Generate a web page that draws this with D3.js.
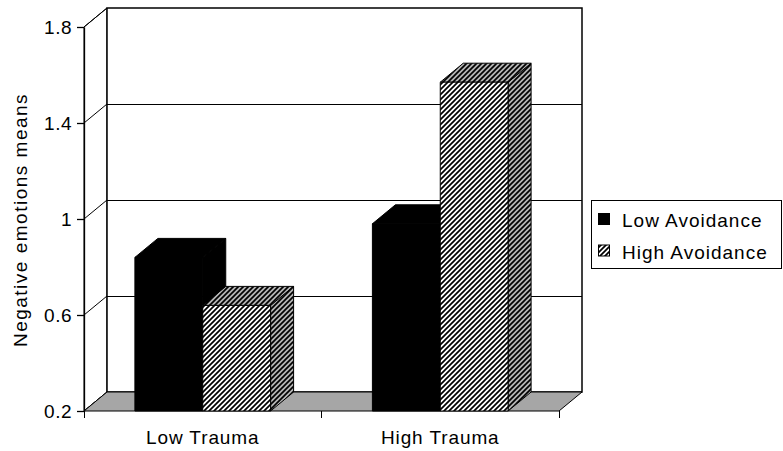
<!DOCTYPE html>
<html>
<head>
<meta charset="utf-8">
<script src="https://cdn.jsdelivr.net/npm/d3@7"></script>
<style>
  body { margin: 0; background: #fff; }
  text { font-family: Arial, "Liberation Sans", sans-serif; fill: #000; }
</style>
</head>
<body>
<div id="viz"></div>
<script>
// chart data
const categories = ["Low Trauma", "High Trauma"];
const series = ["Low Avoidance", "High Avoidance"];
const lowAvoidance = [0.84, 0.98];
const highAvoidance = [0.64, 1.57];
const yTicks = [0.2, 0.6, 1, 1.4, 1.8];

const W = 783, H = 451;
const DX = 23, DY = 19;   // 3d depth offset

const svg = d3.select("#viz").append("svg")
    .attr("width", W).attr("height", H);

const defs = svg.append("defs");
function hatch(id, bg) {
    const p = defs.append("pattern")
        .attr("id", id)
        .attr("patternUnits", "userSpaceOnUse")
        .attr("width", 5).attr("height", 5);
    p.append("rect").attr("width", 5).attr("height", 5).attr("fill", bg);
    p.append("path")
        .attr("d", "M0,5L5,0M-1,1L1,-1M4,6L6,4")
        .attr("stroke", "#000").attr("stroke-width", 1.7);
}
hatch("hatchFront", "#fff");
hatch("hatchSide", "#b4b4b4");

const x0 = d3.scaleBand().domain(categories).range([84, 559]);
const y = d3.scaleLinear().domain([0.2, 1.8]).range([411, 27]);
const bw = x0.bandwidth() / 3.5;
const x1 = d3.scaleBand().domain(series)
    .range([x0.bandwidth() / 2 - bw, x0.bandwidth() / 2 + bw]);

const xL = x0.range()[0], xR = x0.range()[1];
const yTop = y(1.8), yBot = y(0.2);

// side wall + back wall
svg.append("polygon")
    .attr("points", [[xL, yTop], [xL + DX, yTop - DY], [xL + DX, yBot - DY], [xL, yBot]].join(" "))
    .attr("fill", "#fff").attr("stroke", "#000");
svg.append("rect")
    .attr("x", xL + DX).attr("y", yTop - DY)
    .attr("width", xR - xL).attr("height", yBot - yTop)
    .attr("fill", "#fff").attr("stroke", "#000").attr("stroke-width", 1.5);

// gridlines on back wall and diagonals on side wall
const grid = yTicks.filter(d => d > 0.2 && d < 1.8);
svg.selectAll(".grid").data(grid).enter().append("line")
    .attr("x1", xL + DX).attr("x2", xR + DX)
    .attr("y1", d => y(d) - DY).attr("y2", d => y(d) - DY)
    .attr("stroke", "#000").attr("shape-rendering", "crispEdges");
svg.selectAll(".diag").data(yTicks).enter().append("line")
    .attr("x1", xL).attr("x2", xL + DX)
    .attr("y1", d => y(d)).attr("y2", d => y(d) - DY)
    .attr("stroke", "#000");

// floor
svg.append("polygon")
    .attr("points", [[xL, yBot], [xL + DX, yBot - DY], [xR + DX, yBot - DY], [xR, yBot]].join(" "))
    .attr("fill", "#a6a6a6").attr("stroke", "#000");

// bars
const bars = [];
categories.forEach((c, i) => {
    bars.push({ cat: c, s: series[0], v: lowAvoidance[i] });
    bars.push({ cat: c, s: series[1], v: highAvoidance[i] });
});

bars.forEach(d => {
    const xa = x0(d.cat) + x1(d.s), xb = xa + x1.bandwidth();
    const yt = y(d.v);
    const solid = d.s === series[0];
    const front = solid ? "#000" : "url(#hatchFront)";
    const side = solid ? "#000" : "url(#hatchSide)";
    const g = svg.append("g").attr("stroke", "#000").attr("stroke-linejoin", "round");
    g.append("polygon")
        .attr("points", [[xb, yt], [xb + DX, yt - DY], [xb + DX, yBot - DY], [xb, yBot]].join(" "))
        .attr("fill", side);
    g.append("polygon")
        .attr("points", [[xa, yt], [xa + DX, yt - DY], [xb + DX, yt - DY], [xb, yt]].join(" "))
        .attr("fill", side);
    g.append("rect")
        .attr("x", xa).attr("y", yt)
        .attr("width", xb - xa).attr("height", yBot - yt)
        .attr("fill", front);
});

// y axis
const yAxis = svg.append("g")
    .attr("transform", `translate(${xL},0)`)
    .call(d3.axisLeft(y).tickValues(yTicks).tickSize(7).tickSizeOuter(0)
        .tickPadding(5).tickFormat(d => String(d)));
yAxis.selectAll("path, line").attr("stroke", "#000").attr("stroke-width", 1.3);
yAxis.selectAll("text").style("font-size", "19px")
    .style("letter-spacing", "0.5px")
    .style("font-family", "Arial, 'Liberation Sans', sans-serif");

// x axis: ticks on category boundaries, labels on centres
const xTickPos = categories.map(c => x0(c)).concat([xR]);
svg.selectAll(".xtick").data(xTickPos).enter().append("line")
    .attr("x1", d => d).attr("x2", d => d)
    .attr("y1", yBot).attr("y2", yBot + 7)
    .attr("stroke", "#000").attr("shape-rendering", "crispEdges");
svg.selectAll(".xlab").data(categories).enter().append("text")
    .attr("x", d => x0(d) + x0.bandwidth() / 2)
    .attr("y", 444)
    .attr("text-anchor", "middle")
    .style("font-size", "19px")
    .style("letter-spacing", "0.9px")
    .text(d => d);

// y title
svg.append("text")
    .attr("transform", "translate(27,220) rotate(-90)")
    .attr("text-anchor", "middle")
    .style("font-size", "19px")
    .style("letter-spacing", "1.5px")
    .text("Negative emotions means");

// legend
const lg = svg.append("g").attr("transform", "translate(591,200)");
lg.append("rect").attr("width", 190).attr("height", 68)
    .attr("fill", "#fff").attr("stroke", "#000").attr("shape-rendering", "crispEdges");
series.forEach((s, i) => {
    lg.append("rect")
        .attr("x", 7.5).attr("y", 13.5 + i * 31.5)
        .attr("width", 11).attr("height", 11)
        .attr("fill", i === 0 ? "#000" : "url(#hatchFront)")
        .attr("stroke", "#000");
    lg.append("text")
        .attr("x", 31).attr("y", 26.5 + i * 32)
        .style("font-size", "19px")
        .style("letter-spacing", "1px")
        .text(s);
});
</script>
</body>
</html>
